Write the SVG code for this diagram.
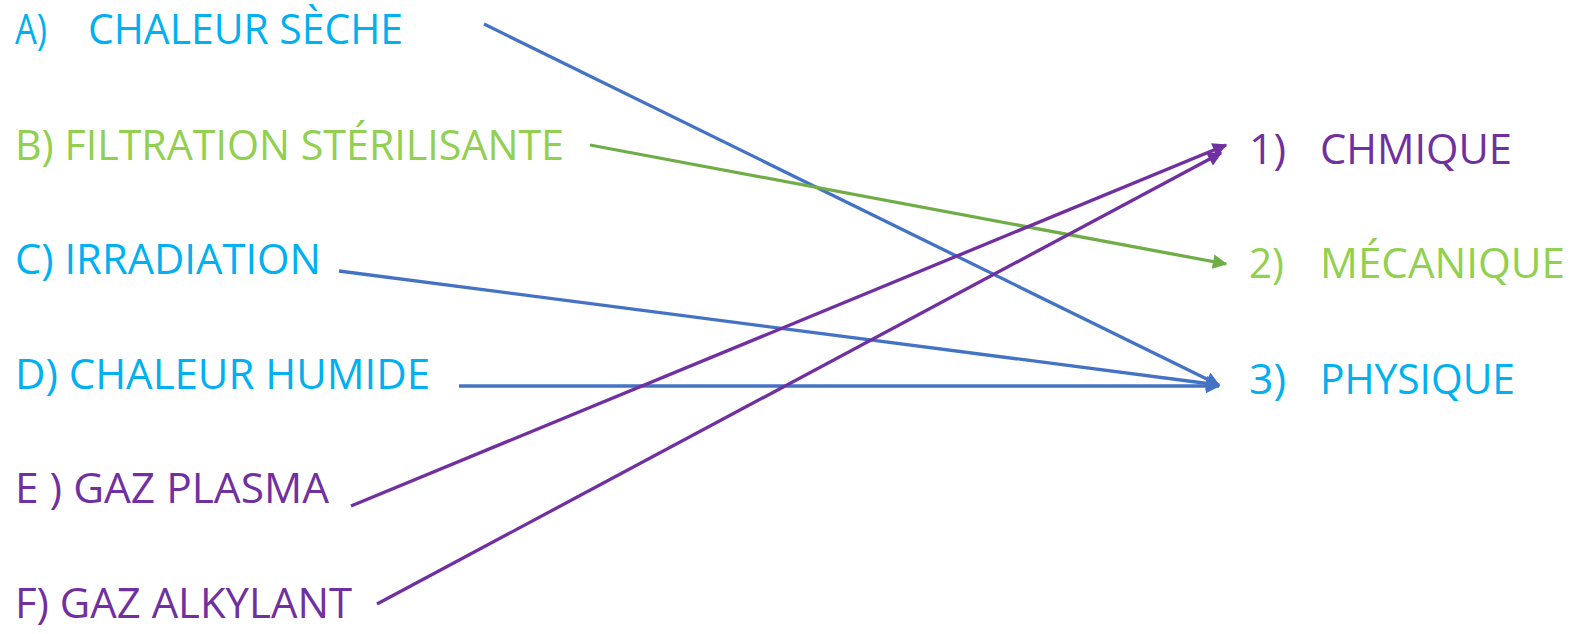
<svg xmlns="http://www.w3.org/2000/svg" width="1576" height="634" viewBox="0 0 1576 634">
<style>
text{font-family:"Open Sans","Noto Sans","Liberation Sans",sans-serif;font-size:42px;}
.cy{fill:#00B0F0}.gr{fill:#92D050}.pu{fill:#7030A0}
.c{fill:none;stroke-width:3.3}
.bl{stroke:#4472C4}.gl{stroke:#70AD47}.pl{stroke:#7030A0}
</style>
<defs>
<marker id="mb" viewBox="0 0 10 10" refX="9" refY="5" markerWidth="4.6" markerHeight="4.4" orient="auto" markerUnits="strokeWidth"><path d="M0,0 L10,5 L0,10 Z" fill="#4472C4"/></marker>
<marker id="mg" viewBox="0 0 10 10" refX="9" refY="5" markerWidth="4.6" markerHeight="4.4" orient="auto" markerUnits="strokeWidth"><path d="M0,0 L10,5 L0,10 Z" fill="#70AD47"/></marker>
<marker id="mp" viewBox="0 0 10 10" refX="9" refY="5" markerWidth="4.6" markerHeight="4.4" orient="auto" markerUnits="strokeWidth"><path d="M0,0 L10,5 L0,10 Z" fill="#7030A0"/></marker>
</defs>
<g id="nA"><text class="cy" x="15" y="44" textLength="32" lengthAdjust="spacingAndGlyphs">A)</text><text class="cy" x="88" y="44" textLength="315" lengthAdjust="spacingAndGlyphs">CHALEUR SÈCHE</text></g>
<g id="nB"><text class="gr" x="15" y="160" textLength="549" lengthAdjust="spacingAndGlyphs">B) FILTRATION STÉRILISANTE</text></g>
<g id="nC"><text class="cy" x="15" y="274" textLength="306" lengthAdjust="spacingAndGlyphs">C) IRRADIATION</text></g>
<g id="nD"><text class="cy" x="15" y="389" textLength="415" lengthAdjust="spacingAndGlyphs">D) CHALEUR HUMIDE</text></g>
<g id="nE"><text class="pu" x="15" y="503" textLength="314" lengthAdjust="spacingAndGlyphs">E ) GAZ PLASMA</text></g>
<g id="nF"><text class="pu" x="15" y="618" textLength="337" lengthAdjust="spacingAndGlyphs">F) GAZ ALKYLANT</text></g>
<g id="n1"><text class="pu" x="1249" y="164" textLength="37" lengthAdjust="spacingAndGlyphs">1)</text><text class="pu" x="1320" y="164" textLength="192" lengthAdjust="spacingAndGlyphs">CHMIQUE</text></g>
<g id="n2"><text class="gr" x="1249" y="278" textLength="35" lengthAdjust="spacingAndGlyphs">2)</text><text class="gr" x="1320" y="278" textLength="245" lengthAdjust="spacingAndGlyphs">MÉCANIQUE</text></g>
<g id="n3"><text class="cy" x="1249" y="394" textLength="37" lengthAdjust="spacingAndGlyphs">3)</text><text class="cy" x="1320" y="394" textLength="195" lengthAdjust="spacingAndGlyphs">PHYSIQUE</text></g>
<g id="connectors">
<line class="c bl" x1="484" y1="24" x2="1219" y2="385" marker-end="url(#mb)"/>
<line class="c gl" x1="590" y1="145" x2="1226" y2="264" marker-end="url(#mg)"/>
<line class="c bl" x1="339" y1="271" x2="1219" y2="385" marker-end="url(#mb)"/>
<line class="c bl" x1="459" y1="386" x2="1219" y2="386" marker-end="url(#mb)"/>
<line class="c pl" x1="351" y1="506" x2="1226" y2="145" marker-end="url(#mp)"/>
<line class="c pl" x1="377" y1="604" x2="1221" y2="153" marker-end="url(#mp)"/>
</g>
</svg>
